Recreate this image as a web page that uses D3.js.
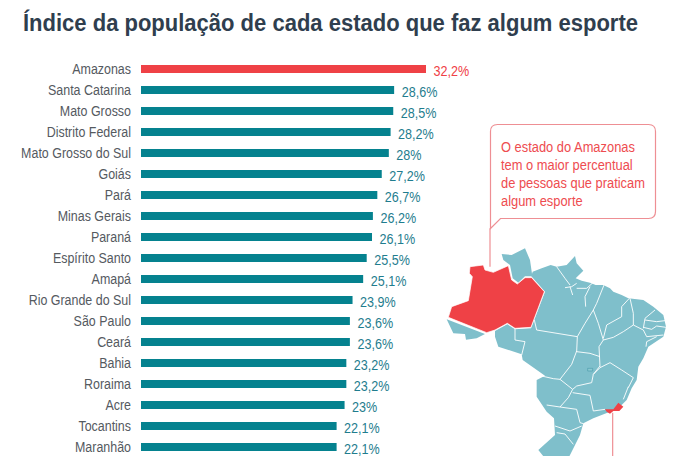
<!DOCTYPE html>
<html>
  <head>
    <meta charset="utf-8">
    <title>Esporte por estado</title>
    <script src="https://d3js.org/d3.v7.min.js"></script>
    <style>
      html, body { margin: 0; padding: 0; background: #fff; overflow: hidden; }
      svg { display: block; }
      text { font-family: "Liberation Sans", sans-serif; }
      .axis path, .axis line { display: none; }
      .axis text { font-size: 15px; fill: #555a5f; font-family: "Liberation Sans", sans-serif; }
    </style>
  </head>
  <body>
    <div id="chart"></div>

    <script>
      var categories = ["Amazonas", "Santa Catarina", "Mato Grosso", "Distrito Federal",
        "Mato Grosso do Sul", "Goiás", "Pará", "Minas Gerais", "Paraná", "Espírito Santo",
        "Amapá", "Rio Grande do Sul", "São Paulo", "Ceará", "Bahia", "Roraima", "Acre",
        "Tocantins", "Maranhão"];
      var values = [32.2, 28.6, 28.5, 28.2, 28, 27.2, 26.7, 26.2, 26.1, 25.5,
        25.1, 23.9, 23.6, 23.6, 23.2, 23.2, 23, 22.1, 22.1];
      var titleText = "Índice da população de cada estado que faz algum esporte";
      var noteLines = ["O estado do Amazonas", "tem o maior percentual",
        "de pessoas que praticam", "algum esporte"];

      // Map outlines (in 1/3 px units, see mapX/mapY)
      var amazonasShape = [[120,470],[160,465],[165,480],[190,487],[235,467],[245,510],[262,522],[285,503],[305,503],[343,545],[303,652],[255,655],[232,640],[195,660],[170,668],[55,622],[65,590],[115,572],[127,500],[118,490]];
      var acreShape = [[50,628],[165,672],[140,685],[108,689],[105,672],[70,670]];
      var roraimaShape = [[215,432],[245,435],[285,415],[300,450],[307,499],[285,499],[265,518],[248,505],[240,465],[220,450]];
      var bodyShape = [[195,663],[232,643],[255,658],[303,655],[345,545],[304,499],[308,485],[335,475],[362,465],[380,470],[410,465],[435,438],[440,460],[460,482],[437,505],[455,512],[480,518],[497,525],[520,525],[540,535],[550,545],[575,555],[595,565],[640,570],[670,590],[700,615],[708,650],[700,680],[655,710],[640,745],[625,770],[620,810],[605,835],[590,870],[575,885],[540,905],[490,925],[460,940],[450,975],[425,1025],[415,1045],[345,1045],[325,1020],[375,975],[372,925],[350,905],[320,860],[320,810],[345,797],[278,750],[275,733],[205,710],[195,680]];
      var rioShape = [[525,898],[550,898],[565,878],[580,890],[568,903],[550,903],[540,911],[530,905]];
      var borders = [
        [[313,630],[320,660],[442,680]],
        [[380,470],[405,505],[420,525]],
        [[405,533],[425,530],[440,520]],
        [[420,530],[428,555]],
        [[440,535],[470,535],[490,517]],
        [[522,525],[500,580],[490,600]],
        [[467,590],[465,560],[480,530]],
        [[490,600],[465,640],[442,680],[440,725]],
        [[490,600],[505,640],[520,690]],
        [[440,725],[480,730],[510,740]],
        [[520,690],[507,710],[510,770]],
        [[598,565],[575,590],[575,620],[530,645],[520,685]],
        [[600,565],[610,610],[610,645]],
        [[520,690],[550,682],[580,665],[610,645],[640,660],[650,680]],
        [[650,680],[700,675]],
        [[675,600],[645,625],[640,655]],
        [[645,630],[680,635],[705,632]],
        [[640,652],[665,658],[680,648],[708,652]],
        [[648,710],[650,695],[680,680]],
        [[490,793],[510,773],[540,758],[575,780],[610,803],[595,833]],
        [[440,723],[425,763],[390,808]],
        [[510,768],[490,793],[485,818],[440,828],[428,838]],
        [[335,798],[370,806],[390,808],[428,838],[415,863],[390,891]],
        [[428,848],[480,856],[490,903],[525,898]],
        [[350,885],[390,891],[440,898],[450,938],[460,941]],
        [[375,948],[420,963],[455,948]],
        [[380,968],[405,972],[430,1003]],
        [[255,657],[255,690],[285,695],[275,735]],
        [[595,830],[580,868]]
      ];
      var brasiliaShape = [[473,775],[488,775],[488,783],[473,783]];
      var calloutTail = [[180,470],[180,355]];
      var rioTail = [[548,908],[548,1045]];

      var width = 688, height = 456;

      var svg = d3.select("#chart").append("svg")
        .attr("width", width)
        .attr("height", height);

      var x = d3.scaleLinear().domain([0, 32.2]).range([141, 426]);
      var y = d3.scaleBand().domain(categories).range([58.5, 457.5])
        .paddingInner(13 / 21).paddingOuter(6.5 / 21);

      function colorOf(name) { return name === "Amazonas" ? "#ef4146" : "#05828f"; }

      svg.append("text")
        .attr("x", 23).attr("y", 30.5)
        .attr("textLength", 615).attr("lengthAdjust", "spacingAndGlyphs")
        .style("font-size", "23.5px").style("font-weight", "bold")
        .style("fill", "#2f3e4e")
        .text(titleText);

      // Category labels, squeezed since no condensed face is installed
      svg.append("g").attr("class", "axis")
        .attr("transform", "translate(131,0) scale(0.83,1)")
        .call(d3.axisLeft(y).tickSize(0).tickPadding(0));

      var rows = categories.map(function(c, i) { return { name: c, value: values[i] }; });

      svg.selectAll("rect.bar").data(rows).enter().append("rect")
        .attr("class", "bar")
        .attr("x", x(0))
        .attr("y", function(d) { return y(d.name); })
        .attr("width", function(d) { return x(d.value) - x(0); })
        .attr("height", y.bandwidth())
        .attr("fill", function(d) { return colorOf(d.name); });

      svg.selectAll("text.val").data(rows).enter().append("text")
        .attr("class", "val")
        .attr("transform", function(d) {
          return "translate(" + (x(d.value) + 7.5) + "," + (y(d.name) + y.bandwidth() / 2 + 6.5) + ") scale(0.84,1)";
        })
        .style("font-size", "15px")
        .style("fill", function(d) { return d.name === "Amazonas" ? "#ef4146" : "#1f7d8e"; })
        .text(function(d) { return String(d.value).replace(".", ",") + "%"; });

      // Map
      var mapX = d3.scaleLinear().domain([0, 774]).range([430, 688]);
      var mapY = d3.scaleLinear().domain([0, 1038]).range([110, 456]);
      var line = d3.line().x(function(d) { return mapX(d[0]); }).y(function(d) { return mapY(d[1]); });
      var shape = function(pts) { return line(pts) + "Z"; };
      var blue = "#7fbfcb", red = "#ef4146", pink = "#ee8f94";

      svg.append("path").attr("d", line(calloutTail)).attr("fill", "none").attr("stroke", pink).attr("stroke-width", 1.2);
      svg.append("path").attr("d", line(rioTail)).attr("fill", "none").attr("stroke", pink).attr("stroke-width", 1.2);

      var map = svg.append("g");
      map.append("path").attr("d", shape(bodyShape)).attr("fill", blue);
      map.append("path").attr("d", shape(acreShape)).attr("fill", blue);
      map.append("path").attr("d", shape(roraimaShape)).attr("fill", blue);
      map.selectAll("path.border").data(borders).enter().append("path")
        .attr("class", "border")
        .attr("d", line).attr("fill", "none")
        .attr("stroke", "#fff").attr("stroke-width", 0.9);
      map.append("path").attr("d", shape(amazonasShape)).attr("fill", red).attr("stroke", "#fff").attr("stroke-width", 0.7);
      map.append("path").attr("d", shape(rioShape)).attr("fill", red);
      map.append("path").attr("d", shape(brasiliaShape)).attr("fill", "#8cc9d2").attr("stroke", "#3f93a3").attr("stroke-width", 0.5);

      // Callout box
      var bx = 490.5, by = 124.5, bw = 165, bh = 94, r = 7;
      svg.append("path")
        .attr("d", "M" + (bx + r) + "," + by + "H" + (bx + bw - r) + "Q" + (bx + bw) + "," + by + " " + (bx + bw) + "," + (by + r)
          + "V" + (by + bh - r) + "Q" + (bx + bw) + "," + (by + bh) + " " + (bx + bw - r) + "," + (by + bh)
          + "H" + (bx + 10) + "L" + bx + "," + (by + bh + 10) + "V" + (by + r) + "Q" + bx + "," + by + " " + (bx + r) + "," + by + "Z")
        .attr("fill", "#fff").attr("stroke", pink).attr("stroke-width", 1.2);

      svg.selectAll("text.note").data(noteLines).enter().append("text")
        .attr("class", "note")
        .attr("transform", function(d, i) { return "translate(501," + (152 + i * 18) + ") scale(0.86,1)"; })
        .style("font-size", "15px")
        .style("fill", "#ee4c50")
        .text(function(d) { return d; });
    </script>
  </body>
</html>
